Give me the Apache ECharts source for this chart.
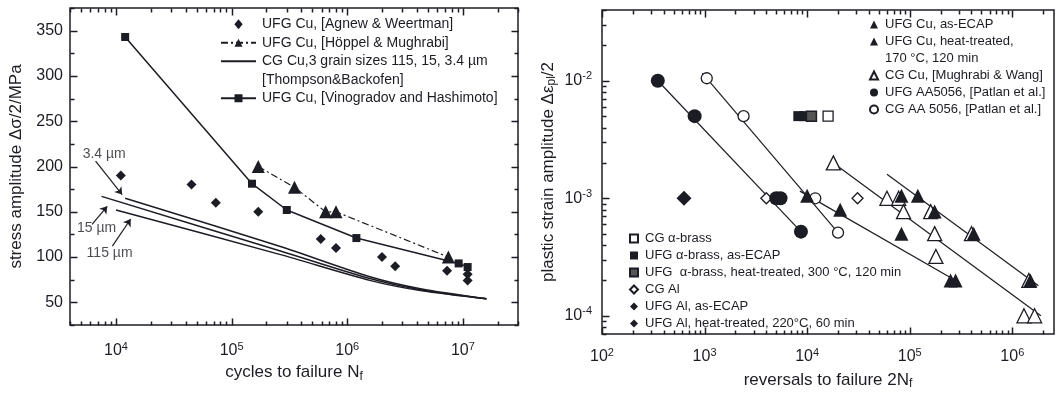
<!DOCTYPE html>
<html>
<head>
<meta charset="utf-8">
<style>
html, body { margin: 0; padding: 0; background: #fff; }
#chart { width: 1057px; height: 395px; }
</style>
<script src="https://cdn.jsdelivr.net/npm/echarts@6/dist/echarts.min.js"></script>
</head>
<body>
<div id="chart"></div>
<script>
// ---- left panel: stress amplitude vs cycles to failure ----
var agnewN = [1.1e4, 4.5e4, 7.3e4, 1.7e5, 5.9e5, 8.0e5, 2.0e6, 2.6e6, 7.3e6, 1.1e7, 1.1e7];
var agnewS = [190, 180, 160, 150, 120, 110, 100, 90, 85, 81, 74];
var hoppelN = [1.7e5, 3.5e5, 6.5e5, 8.0e5, 7.5e6];
var hoppelS = [200, 177, 150, 150, 100];
var vinoN = [1.2e4, 1.5e5, 3.0e5, 1.2e6, 9.2e6, 1.1e7];
var vinoS = [343, 181, 152, 121, 93, 89];
var cg34N = [1.2e4, 2.6e5, 1.6e6, 4.3e6, 1.6e7];
var cg34S = [165, 112, 78, 65, 54];
var cg15N = [7.5e3, 2.6e5, 1.6e6, 4.3e6, 1.6e7];
var cg15S = [167, 107, 76, 64, 54];
var cg115N = [1.0e4, 2.6e5, 1.6e6, 4.3e6, 1.6e7];
var cg115S = [152, 103, 74, 63, 54];
var annText = ['3.4 µm', '15 µm', '115 µm'];
var annN = [7.9e3, 6.8e3, 8.8e3];
var annS = [214, 132, 104];
var arrowFrom = [[6.66e3, 206], [6.2e3, 136], [9.3e3, 112]];
var arrowTo = [[1.13e4, 169], [8.4e3, 156], [1.34e4, 142]];

// ---- right panel: plastic strain amplitude vs reversals to failure ----
var cuEcapN = [1.0e4, 2.1e4, 8.3e4, 2.5e5, 2.8e5];
var cuEcapE = [1.05e-3, 8e-4, 5e-4, 2e-4, 2e-4];
var cuHtN = [8.3e4, 1.2e5, 1.75e5, 4.2e5, 1.5e6];
var cuHtE = [1.05e-3, 1.05e-3, 7.7e-4, 5e-4, 2e-4];
var cgCuN = [1.8e4, 6.0e4, 7.8e4, 8.7e4, 1.6e5, 1.75e5, 1.8e5, 4.0e5, 1.45e6, 1.3e6, 1.65e6];
var cgCuE = [2e-3, 1e-3, 1e-3, 7.7e-4, 7.7e-4, 5e-4, 3.2e-4, 5e-4, 2e-4, 1e-4, 1e-4];
var ufg5056N = [350, 800, 5.0e3, 5.5e3, 8.7e3];
var ufg5056E = [1e-2, 5e-3, 1e-3, 1e-3, 5.2e-4];
var cg5056N = [1.05e3, 2.4e3, 1.2e4, 2.0e4];
var cg5056E = [1.05e-2, 5e-3, 1e-3, 5.1e-4];
var brassCgN = [1.6e4], brassCgE = [5e-3];
var brassUfgN = [8.2e3, 9.4e3], brassUfgE = [5e-3, 5e-3];
var brassHtN = [1.1e4], brassHtE = [5e-3];
var alCgN = [4.0e3, 3.1e4], alCgE = [1e-3, 1e-3];
var alUfgN = [630], alUfgE = [1e-3];
var alHtN = [], alHtE = [];
// fitted lines (end points)
var fitN = [[350, 8.7e3], [950, 2.0e4], [8.5e3, 2.8e5], [1.8e4, 1.9e6], [6e4, 1.8e6]];
var fitE = [[1e-2, 5.2e-4], [1.16e-2, 5.1e-4], [1.15e-3, 2e-4], [2e-3, 1e-4], [1.6e-3, 1.8e-4]];

var INK = '#1c1c24';
var FONT = 'Liberation Sans';
var DIAMOND = 'path://M0,-6L5,0L0,6L-5,0Z';

function zip(a, b) { return a.map(function (v, i) { return [v, b[i]]; }); }

function logTicks(min, max) {
    var out = [];
    for (var e = Math.floor(Math.log10(min)); e <= Math.ceil(Math.log10(max)); e++) {
        for (var k = 1; k <= 9; k++) {
            var v = k * Math.pow(10, e);
            if (v >= min * 0.999 && v <= max * 1.001) out.push([v, k === 1]);
        }
    }
    return out;
}

function supFmt(v) {
    var l = Math.log10(v), e = Math.round(l);
    if (Math.abs(l - e) > 1e-6) return '';
    return '10{sup|' + e + '}';
}

var X0 = [4000, 3e7], Y0 = [25, 375];
var X1 = [100, 2.55e6], Y1 = [7e-5, 4e-2];

var supRich = {
    sup: { fontSize: 11, fontFamily: FONT, color: INK, padding: [0, 0, 9, 0] }
};
var subRich = {
    sub: { fontSize: 12, fontFamily: FONT, color: INK, padding: [8, 0, 0, 0] }
};

function lineFit(i) {
    return {
        type: 'line', xAxisIndex: 1, yAxisIndex: 1, silent: true, z: 1,
        symbol: 'none', lineStyle: { color: INK, width: 1.2 },
        data: zip(fitN[i], fitE[i])
    };
}
function pts(name, n, e, symbol, size, open) {
    return {
        name: name, type: 'scatter', xAxisIndex: 1, yAxisIndex: 1, z: open ? 3 : 4,
        symbol: symbol, symbolSize: size,
        itemStyle: open ? { color: '#fff', borderColor: INK, borderWidth: 1.3, opacity: 1 } : { color: INK, opacity: 1 },
        data: zip(n, e)
    };
}

var chart = echarts.init(document.getElementById('chart'));
chart.setOption({
    animation: false,
    textStyle: { fontFamily: FONT, color: INK },
    grid: [
        { left: 70, top: 8, width: 448, height: 317, show: true, borderColor: INK, borderWidth: 1.5 },
        { left: 602, top: 10, right: -3, bottom: 57, show: true, borderColor: INK, borderWidth: 1.5 }
    ],
    xAxis: [
        {
            type: 'log', logBase: 10, gridIndex: 0, min: X0[0], max: X0[1],
            axisLine: { show: false }, axisTick: { show: false }, splitLine: { show: false },
            axisLabel: { formatter: supFmt, fontSize: 16, color: INK, margin: 16, rich: supRich },
            name: 'cycles to failure N{sub|f}', nameLocation: 'middle', nameGap: 37,
            nameTextStyle: { fontSize: 17, color: INK, rich: subRich }
        },
        {
            type: 'log', logBase: 10, gridIndex: 1, min: X1[0], max: X1[1],
            axisLine: { show: false }, axisTick: { show: false }, splitLine: { show: false },
            axisLabel: { formatter: supFmt, fontSize: 16, color: INK, margin: 13, rich: supRich },
            name: 'reversals to failure 2N{sub|f}', nameLocation: 'middle', nameGap: 36,
            nameTextStyle: { fontSize: 17, color: INK, rich: subRich }
        }
    ],
    yAxis: [
        {
            type: 'value', gridIndex: 0, min: Y0[0], max: Y0[1], interval: 25,
            axisLine: { show: false }, splitLine: { show: false }, axisTick: { show: false },
            axisLabel: {
                fontSize: 16, color: INK, margin: 7,
                formatter: function (v) { return (v % 50 === 0 && v > 25 && v < 375) ? String(v) : ''; }
            },
            name: 'stress amplitude Δσ/2/MPa', nameLocation: 'middle', nameGap: 45, nameRotate: 90,
            nameTextStyle: { fontSize: 17, color: INK }
        },
        {
            type: 'log', logBase: 10, gridIndex: 1, min: Y1[0], max: Y1[1],
            axisLine: { show: false }, axisTick: { show: false }, splitLine: { show: false },
            axisLabel: { formatter: supFmt, fontSize: 16, color: INK, margin: 10, rich: supRich },
            name: 'plastic strain amplitude Δε{sub|pl}/2', nameLocation: 'middle', nameGap: 44, nameRotate: 90,
            nameTextStyle: { fontSize: 17, color: INK, rich: subRich }
        }
    ],
    legend: [
        {
            orient: 'vertical', left: 215, top: 10, itemWidth: 35, itemHeight: 10, itemGap: 0,
            symbolKeepAspect: true,
            textStyle: { fontSize: 14, color: INK, lineHeight: 18.5, padding: [0, 0, 0, 1] },
            selectedMode: false,
            data: [
                { name: 'UFG Cu, [Agnew & Weertman]', icon: DIAMOND },
                'UFG Cu, [Höppel & Mughrabi]',
                { name: 'CG Cu,3 grain sizes 115, 15, 3.4 µm', itemStyle: { opacity: 0 } },
                { name: '[Thompson&Backofen]', itemStyle: { opacity: 0 }, lineStyle: { opacity: 0 } },
                'UFG Cu, [Vinogradov and Hashimoto]'
            ]
        },
        {
            orient: 'vertical', left: 864, top: 11, itemWidth: 8, itemHeight: 8, itemGap: 0,
            symbolKeepAspect: true,
            textStyle: { fontSize: 13, color: INK, lineHeight: 17, padding: [0, 0, 0, 2] },
            selectedMode: false,
            data: [
                'UFG Cu, as-ECAP',
                'UFG Cu, heat-treated,',
                { name: '170 °C, 120 min', itemStyle: { opacity: 0 } },
                'CG Cu, [Mughrabi & Wang]',
                'UFG AA5056, [Patlan et al.]',
                'CG AA 5056, [Patlan et al.]'
            ]
        },
        {
            orient: 'vertical', left: 624, top: 225, itemWidth: 8, itemHeight: 8, itemGap: 0,
            symbolKeepAspect: true,
            textStyle: { fontSize: 13, color: INK, lineHeight: 17, padding: [0, 0, 0, 2] },
            selectedMode: false,
            data: [
                'CG α-brass',
                'UFG α-brass, as-ECAP',
                'UFG  α-brass, heat-treated, 300 °C, 120 min',
                'CG Al',
                'UFG Al, as-ECAP',
                'UFG Al, heat-treated, 220°C, 60 min'
            ]
        }
    ],
    series: [
        // left panel
        {
            name: 'CG Cu,3 grain sizes 115, 15, 3.4 µm', type: 'line', xAxisIndex: 0, yAxisIndex: 0,
            symbol: 'none', smooth: 0.3, lineStyle: { color: INK, width: 1.5 }, itemStyle: { color: INK },
            data: zip(cg34N, cg34S)
        },
        {
            name: 'CG Cu,3 grain sizes 115, 15, 3.4 µm', type: 'line', xAxisIndex: 0, yAxisIndex: 0,
            symbol: 'none', smooth: 0.3, lineStyle: { color: INK, width: 1.5 }, itemStyle: { color: INK },
            data: zip(cg15N, cg15S)
        },
        {
            name: 'CG Cu,3 grain sizes 115, 15, 3.4 µm', type: 'line', xAxisIndex: 0, yAxisIndex: 0,
            symbol: 'none', smooth: 0.3, lineStyle: { color: INK, width: 1.5 }, itemStyle: { color: INK },
            data: zip(cg115N, cg115S)
        },
        { name: '[Thompson&Backofen]', type: 'line', xAxisIndex: 0, yAxisIndex: 0, data: [] },
        {
            name: 'UFG Cu, [Vinogradov and Hashimoto]', type: 'line', xAxisIndex: 0, yAxisIndex: 0,
            symbol: 'rect', symbolSize: 8, showAllSymbol: true,
            lineStyle: { color: INK, width: 1.5 }, itemStyle: { color: INK },
            data: zip(vinoN, vinoS)
        },
        {
            name: 'UFG Cu, [Höppel & Mughrabi]', type: 'line', xAxisIndex: 0, yAxisIndex: 0,
            symbol: 'triangle', symbolSize: 13, showAllSymbol: true,
            lineStyle: { color: INK, width: 1.2, type: [7, 3, 2, 3] }, itemStyle: { color: INK },
            data: zip(hoppelN, hoppelS)
        },
        {
            name: 'UFG Cu, [Agnew & Weertman]', type: 'scatter', xAxisIndex: 0, yAxisIndex: 0,
            symbol: 'diamond', symbolSize: 10, itemStyle: { color: INK, opacity: 1 },
            data: zip(agnewN, agnewS)
        },
        {
            type: 'scatter', xAxisIndex: 0, yAxisIndex: 0, symbolSize: 0, silent: true,
            label: {
                show: true, position: 'inside', fontSize: 14, color: INK,
                formatter: function (p) { return annText[p.dataIndex]; }
            },
            data: zip(annN, annS),
            markLine: {
                silent: true, symbol: ['none', 'arrow'], symbolSize: 7, label: { show: false },
                lineStyle: { color: INK, width: 1.2, type: 'solid' },
                data: arrowFrom.map(function (f, i) { return [{ coord: f }, { coord: arrowTo[i] }]; })
            }
        },
        // right panel
        lineFit(0), lineFit(1), lineFit(2), lineFit(3), lineFit(4),
        pts('CG Cu, [Mughrabi & Wang]', cgCuN, cgCuE, 'triangle', 14, true),
        pts('UFG Cu, as-ECAP', cuEcapN, cuEcapE, 'triangle', 14, false),
        pts('UFG Cu, heat-treated,', cuHtN, cuHtE, 'triangle', 14, false),
        { name: '170 °C, 120 min', type: 'scatter', xAxisIndex: 1, yAxisIndex: 1, data: [] },
        pts('UFG AA5056, [Patlan et al.]', ufg5056N, ufg5056E, 'circle', 14, false),
        pts('CG AA 5056, [Patlan et al.]', cg5056N, cg5056E, 'circle', 11, true),
        pts('CG α-brass', brassCgN, brassCgE, 'rect', 10, true),
        pts('UFG α-brass, as-ECAP', brassUfgN, brassUfgE, 'rect', 10, false),
        {
            name: 'UFG  α-brass, heat-treated, 300 °C, 120 min', type: 'scatter', xAxisIndex: 1, yAxisIndex: 1,
            symbol: 'rect', symbolSize: 10, z: 4,
            itemStyle: { color: '#555', borderColor: INK, borderWidth: 1.5, opacity: 1 },
            data: zip(brassHtN, brassHtE)
        },
        pts('CG Al', alCgN, alCgE, 'diamond', 11, true),
        pts('UFG Al, as-ECAP', alUfgN, alUfgE, 'diamond', 15, false),
        pts('UFG Al, heat-treated, 220°C, 60 min', alHtN, alHtE, 'diamond', 12, false)
    ]
});

// axis tick marks (inward), placed through the axes' own scales
function tick(p, dx, dy) {
    var x = Math.round(p[0]) + 0.5, y = Math.round(p[1]) + 0.5;
    return {
        type: 'line',
        shape: { x1: x, y1: y, x2: x + dx, y2: y + dy },
        style: { stroke: INK, lineWidth: 1.5 }
    };
}
var marks = [];
var c0 = { xAxisIndex: 0, yAxisIndex: 0 }, c1 = { xAxisIndex: 1, yAxisIndex: 1 };
logTicks(X0[0], X0[1]).forEach(function (t) {
    var len = t[1] ? 7 : 4;
    marks.push(tick(chart.convertToPixel(c0, [t[0], Y0[0]]), 0, -len));
    marks.push(tick(chart.convertToPixel(c0, [t[0], Y0[1]]), 0, len));
});
for (var v = Y0[0]; v <= Y0[1]; v += 25) {
    var len0 = v % 50 === 0 ? 7 : 4;
    marks.push(tick(chart.convertToPixel(c0, [X0[0], v]), len0, 0));
    marks.push(tick(chart.convertToPixel(c0, [X0[1], v]), -len0, 0));
}
logTicks(X1[0], X1[1]).forEach(function (t) {
    var len = t[1] ? 7 : 4;
    marks.push(tick(chart.convertToPixel(c1, [t[0], Y1[0]]), 0, -len));
    marks.push(tick(chart.convertToPixel(c1, [t[0], Y1[1]]), 0, len));
});
logTicks(Y1[0], Y1[1]).forEach(function (t) {
    var len = t[1] ? 7 : 4;
    marks.push(tick(chart.convertToPixel(c1, [X1[0], t[0]]), len, 0));
});
chart.setOption({ graphic: { elements: marks } });
</script>
</body>
</html>
